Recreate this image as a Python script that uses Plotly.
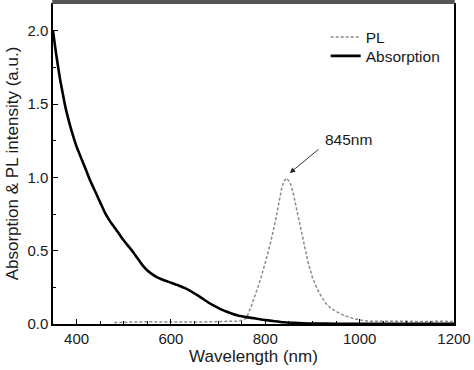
import plotly.graph_objects as go

# Absorption spectrum
abs_wl = [350, 355, 360, 365, 370, 375, 380, 390, 400, 410, 420, 430, 440, 450, 460, 470,
          480, 490, 500, 510, 520, 530, 540, 550, 560, 570, 580, 590, 600, 610, 620, 630,
          640, 650, 660, 670, 680, 690, 700, 710, 720, 730, 740, 750, 760, 780, 800, 820,
          840, 860, 880, 900, 950, 1000, 1100, 1200]
abs_val = [2.00, 1.88, 1.77, 1.67, 1.585, 1.50, 1.43, 1.31, 1.21, 1.13, 1.05, 0.97, 0.90, 0.83, 0.76, 0.705,
           0.66, 0.615, 0.57, 0.53, 0.49, 0.445, 0.40, 0.365, 0.34, 0.32, 0.305, 0.293, 0.282, 0.27, 0.258, 0.245,
           0.228, 0.208, 0.188, 0.167, 0.145, 0.127, 0.11, 0.095, 0.082, 0.07, 0.06, 0.053, 0.047, 0.037, 0.027, 0.019,
           0.012, 0.008, 0.005, 0.003, 0.002, 0.002, 0.001, 0.001]

# PL spectrum
pl_wl = [480, 500, 520, 540, 560, 580, 600, 620, 640, 660, 680, 700, 720, 740, 750, 760, 770, 780,
         790, 800, 810, 820, 830, 835, 840, 845, 850, 855, 860, 870, 880, 890, 900, 910, 920, 930,
         940, 950, 960, 970, 980, 990, 1000, 1010, 1020, 1040, 1060, 1080, 1100, 1120, 1140, 1160,
         1180, 1200]
pl_val = [0.010, 0.012, 0.015, 0.014, 0.016, 0.013, 0.015, 0.012, 0.014, 0.013, 0.015, 0.014, 0.016,
          0.020, 0.026, 0.040, 0.12, 0.21, 0.305, 0.42, 0.54, 0.68, 0.85, 0.93, 0.975, 0.995, 0.975,
          0.945, 0.88, 0.73, 0.575, 0.43, 0.315, 0.24, 0.18, 0.135, 0.105, 0.085, 0.068, 0.055, 0.044,
          0.035, 0.028, 0.022, 0.019, 0.018, 0.020, 0.017, 0.019, 0.016, 0.018, 0.017, 0.019, 0.016]

peak_label = "845nm"
x_title = "Wavelength (nm)"
y_title = "Absorption & PL intensity (a.u.)"

FONT = "Liberation Sans, Arial, sans-serif"
TXT = "#1a1a1a"

legend_common = dict(xanchor="left", yanchor="middle", bgcolor="rgba(0,0,0,0)", borderwidth=0,
                     font=dict(size=15.5, family=FONT, color=TXT), itemwidth=30)

fig = go.Figure()
fig.add_trace(go.Scatter(x=pl_wl, y=pl_val, mode="lines", name="PL", legend="legend",
                         line=dict(color="#8a8a8a", width=1.5, dash="3px,2px")))
fig.add_trace(go.Scatter(x=abs_wl, y=abs_val, mode="lines", name="Absorption", legend="legend2",
                         line=dict(color="black", width=2.6, shape="spline", smoothing=0.6)))

fig.update_layout(
    width=474, height=370,
    margin=dict(l=53, r=17, t=3, b=46),
    paper_bgcolor="white", plot_bgcolor="white",
    font=dict(family=FONT, color=TXT, size=15),
    showlegend=True,
    legend=dict(x=0.68, y=0.893, **legend_common),
    legend2=dict(x=0.68, y=0.834, **legend_common),
    xaxis=dict(range=[350, 1200], tick0=0, dtick=200, ticks="inside", ticklen=5,
               tickwidth=1.2, tickcolor="black",
               showline=True, linecolor="black", linewidth=1.5, mirror=False,
               showgrid=False, zeroline=False,
               tickfont=dict(size=15, family=FONT, color=TXT),
               minor=dict(dtick=50, tick0=0, ticks="inside", ticklen=3, tickcolor="black", tickwidth=1),
               title=dict(text=x_title, font=dict(size=17, family=FONT, color=TXT), standoff=4)),
    yaxis=dict(range=[0, 2.19], tick0=0, dtick=0.5, tickformat=".1f", ticks="inside", ticklen=5,
               tickwidth=1.2, tickcolor="black",
               showline=True, linecolor="black", linewidth=1.5, mirror=True,
               showgrid=False, zeroline=False,
               tickfont=dict(size=15, family=FONT, color=TXT),
               minor=dict(dtick=0.25, tick0=0, ticks="inside", ticklen=3, tickcolor="black", tickwidth=1),
               title=dict(text=y_title, font=dict(size=17, family=FONT, color=TXT), standoff=4)),
)

# top border (grey, thicker band)
fig.add_shape(type="rect", xref="paper", yref="paper", x0=-0.002, x1=1.002, y0=0.997, y1=1.0093,
              fillcolor="#555555", line=dict(width=0), layer="above")

# peak annotation
fig.add_annotation(x=976, y=1.26, text=peak_label, showarrow=False,
                   font=dict(size=15.5, family=FONT, color=TXT))
fig.add_annotation(x=852, y=1.03, ax=916, ay=1.20, axref="x", ayref="y", text="",
                   showarrow=True, arrowhead=2, arrowsize=1.2, arrowwidth=0.9, arrowcolor="#222")

fig.write_html("out.html", config={"displayModeBar": False},
               post_script="document.body.style.margin='0px';")
